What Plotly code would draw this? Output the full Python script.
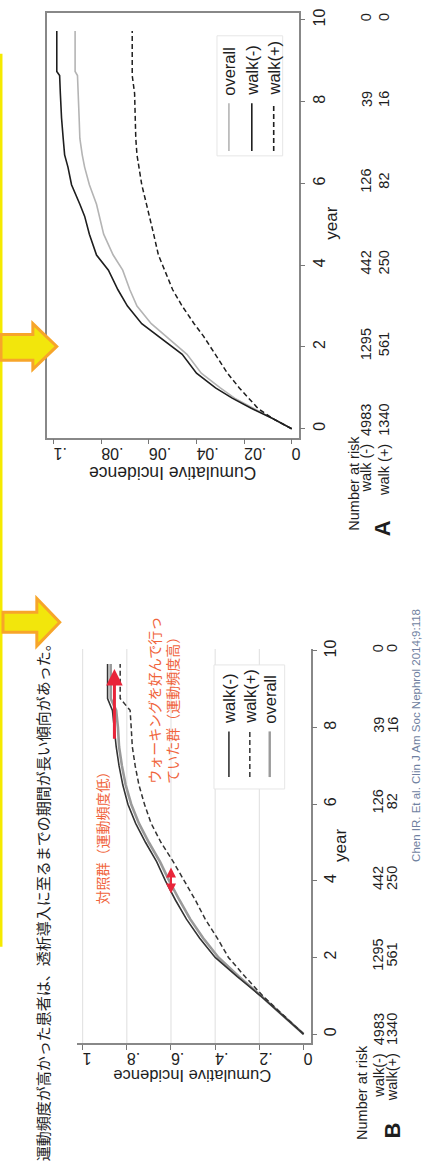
import plotly.graph_objects as go

W, H = 426, 1173
def px(x):
    return x / W
def py(y):
    return 1 - y / H

FONT = "Liberation Sans, Arial, sans-serif"
JFONT = "Noto Sans CJK JP, sans-serif"

# ---------------- data: panel A ----------------
years_A = [0, 0.25, 0.5, 0.75, 1.0, 1.36, 1.82, 2.26, 2.57, 3.0, 3.4, 3.88, 4.25,
           4.76, 5.2, 5.49, 5.97, 6.4, 6.7, 7.1, 7.6, 8.2, 8.64, 8.74, 9.73]
A_walk_minus = [0, .008, .017, .025, .032, .040, .046, .056, .063, .069, .073, .077, .082,
                .085, .087, .089, .0925, .094, .0954, .096, .0967, .0972, .0975, .0987, .0987]
A_overall = [0, .008, .016, .024, .030, .038, .044, .053, .059, .065, .068, .071, .075,
             .079, .081, .082, .085, .087, .088, .089, .0893, .0898, .090, .091, .091]
A_walk_plus = [0, .008, .0142, .018, .022, .027, .032, .037, .041, .046, .050, .0535, .056,
               .058, .060, .061, .063, .064, .065, .0655, .0658, .066, .067, .067, .067]

# ---------------- data: panel B ----------------
years_B = [0, 0.5, 1.0, 1.5, 2.0, 2.5, 3.0, 3.5, 4.0, 4.5, 5.0, 5.5, 6.0, 6.5, 7.0,
           7.5, 8.0, 8.45, 8.76, 9.66]
B_walk_minus = [0, .095, .195, .30, .40, .47, .53, .58, .625, .665, .715, .76, .795, .818,
                .835, .848, .856, .865, .887, .887]
B_walk_plus = [0, .095, .185, .265, .34, .39, .445, .49, .54, .59, .645, .69, .72, .745,
               .762, .775, .78, .785, .83, .83]
B_overall = [0, .095, .193, .292, .385, .454, .513, .562, .608, .65, .70, .745, .78, .805,
             .822, .835, .84, .848, .873, .873]

# ---------------- ticks / tables ----------------
year_ticks = [0, 2, 4, 6, 8, 10]
year_labels = ["0", "2", "4", "6", "8", "10"]
A_inc_ticks = [0, .02, .04, .06, .08, .1]
A_inc_labels = ["0", ".02", ".04", ".06", ".08", ".1"]
B_inc_ticks = [0, .2, .4, .6, .8, 1]
B_inc_labels = ["0", ".2", ".4", ".6", ".8", "1"]

risk_years = [0, 2, 4, 6, 8, 10]
risk_minus = [4983, 1295, 442, 126, 39, 0]
risk_plus = [1340, 561, 250, 82, 16, 0]

A_legend = ["overall", "walk(-)", "walk(+)"]
B_legend = ["walk(-)", "walk(+)", "overall"]

title_jp = "運動頻度が高かった患者は、透析導入に至るまでの期間が長い傾向があった。"
note_low = "対照群（運動頻度低）"
note_high = "ウォーキングを好んで行っ<br>ていた群（運動頻度高）"
citation = "Chen IR. Et al. Clin J Am Soc Nephrol 2014;9:118"

# arrows (data coordinates of panel B)
gap_arrow = dict(inc=0.6, y_from=3.63, y_to=4.35)
end_arrow = dict(inc=0.856, y_from=7.67, y_to=9.53)

DARK = "#1e1e1e"
LIGHT_A = "#b4b4b4"
GRAY_B = "#9a9a9a"
RED = "#e8253a"
ORANGE_TXT = "#f0643c"
DASH = "5px,3px"

fig = go.Figure()

# Panel A traces
fig.add_trace(go.Scatter(x=A_overall, y=years_A, xaxis="x", yaxis="y", mode="lines",
                         line=dict(color=LIGHT_A, width=1.6)))
fig.add_trace(go.Scatter(x=A_walk_plus, y=years_A, xaxis="x", yaxis="y", mode="lines",
                         line=dict(color=DARK, width=1.5, dash=DASH)))
fig.add_trace(go.Scatter(x=A_walk_minus, y=years_A, xaxis="x", yaxis="y", mode="lines",
                         line=dict(color=DARK, width=1.6)))

# Panel B traces
fig.add_trace(go.Scatter(x=B_overall, y=years_B, xaxis="x2", yaxis="y2", mode="lines",
                         line=dict(color=GRAY_B, width=2.6)))
fig.add_trace(go.Scatter(x=B_walk_plus, y=years_B, xaxis="x2", yaxis="y2", mode="lines",
                         line=dict(color="#333333", width=1.5, dash=DASH)))
fig.add_trace(go.Scatter(x=B_walk_minus, y=years_B, xaxis="x2", yaxis="y2", mode="lines",
                         line=dict(color="#333333", width=1.6)))

tickfont = dict(family=FONT, size=16, color=DARK)
common = dict(ticks="outside", ticklen=5, tickcolor="#777", showline=True, linecolor="#888",
              linewidth=1.5, zeroline=False, showgrid=False, tickfont=tickfont)

fig.update_layout(
    width=W, height=H, margin=dict(l=0, r=0, t=0, b=0),
    paper_bgcolor="white", plot_bgcolor="white", showlegend=False,
    xaxis=dict(domain=[px(47), px(300)], range=[0.1029, -0.0029], anchor="y",
               tickvals=A_inc_ticks, ticktext=A_inc_labels, tickangle=180, mirror=True, **common),
    yaxis=dict(domain=[py(432), py(4)], range=[-0.218, 10.17], anchor="x", side="right",
               tickvals=year_ticks, ticktext=year_labels, tickangle=-90, mirror=True, **common),
    xaxis2=dict(domain=[px(77), px(312)], range=[1.027, -0.0315], anchor="y2",
                tickvals=B_inc_ticks, ticktext=B_inc_labels, tickangle=180, **common),
    yaxis2=dict(domain=[py(1042), py(645)], range=[-0.233, 10.05], anchor="x2", side="right",
                tickvals=year_ticks, ticktext=year_labels, tickangle=-90, **common),
)

shapes = []
# panel B grid lines
for v in B_inc_ticks[1:]:
    shapes.append(dict(type="line", xref="x2", yref="y2 domain", x0=v, x1=v, y0=0, y1=1,
                       line=dict(color="#e4e4e4", width=1.2), layer="below"))
# legend boxes
shapes.append(dict(type="rect", xref="paper", yref="paper", x0=px(218), x1=px(284),
                   y0=py(148), y1=py(27), line=dict(color="#e6e6e6", width=1),
                   fillcolor="white", layer="below"))
shapes.append(dict(type="rect", xref="paper", yref="paper", x0=px(215), x1=px(286),
                   y0=py(786), y1=py(661), line=dict(color="#e6e6e6", width=1),
                   fillcolor="white", layer="below"))

annotations = []
def rtext(text, x, y, size, color=DARK, yanchor="middle", angle=-90, family=FONT,
          xref="paper", yref="paper", yshift=0, align="center", bold=False):
    if bold:
        text = "<b>" + text + "</b>"
    annotations.append(dict(text=text, x=x, y=y, xref=xref, yref=yref, showarrow=False,
                            textangle=angle, xanchor="center", yanchor=yanchor, yshift=yshift,
                            align=align, font=dict(family=family, size=size, color=color)))

# legend A
A_leg_style = [(LIGHT_A, "solid"), (DARK, "solid"), (DARK, DASH)]
for i, (name, (col, dash)) in enumerate(zip(A_legend, A_leg_style)):
    xc = [230, 253, 275][i]
    shapes.append(dict(type="line", xref="paper", yref="paper", x0=px(xc), x1=px(xc),
                       y0=py(143), y1=py(95), line=dict(color=col, width=1.6, dash=dash)))
    rtext(name, px(xc), py(89), 16.5, yanchor="bottom")

# legend B
B_leg_style = [("#333333", "solid", 1.6), ("#333333", DASH, 1.5), (GRAY_B, "solid", 2.4)]
for i, (name, (col, dash, wd)) in enumerate(zip(B_legend, B_leg_style)):
    xc = [230, 251, 271][i]
    shapes.append(dict(type="line", xref="paper", yref="paper", x0=px(xc), x1=px(xc),
                       y0=py(774), y1=py(728), line=dict(color=col, width=wd, dash=dash)))
    rtext(name, px(xc), py(722), 16.5, yanchor="bottom")

# axis titles
rtext("year", px(333), py(216), 17)
rtext("Cumulative Incidence", px(174), py(467), 17.5, angle=180)
rtext("year", px(342), py(843), 17)
rtext("Cumulative Incidence", px(193), py(1075), 16.5, angle=180)

# risk tables
for (xm, xp, yref_ax, shift0, lab_m, lab_p, xn, yn, letter, lx, ly) in [
        (368, 386, "y", 27, "walk (-)", "walk (+)", 356, 478, "A", 385, 523),
        (380, 394, "y2", 23, "walk(-)", "walk(+)", 363, 1092, "B", 394, 1130)]:
    rtext("Number at risk", px(xn), py(yn), 14.5)
    rtext(letter, px(lx), py(ly), 22, bold=True)
    rtext(f"{lab_m}  {risk_minus[0]}", px(xm), risk_years[0], 14.5, yref=yref_ax,
          yanchor="top", yshift=shift0)
    rtext(f"{lab_p}  {risk_plus[0]}", px(xp), risk_years[0], 14.5, yref=yref_ax,
          yanchor="top", yshift=shift0)
    for yr, nm, npl in zip(risk_years[1:], risk_minus[1:], risk_plus[1:]):
        rtext(str(nm), px(xm), yr, 14.5, yref=yref_ax, yshift=3)
        rtext(str(npl), px(xp), yr, 14.5, yref=yref_ax, yshift=3)

# Japanese texts
rtext(title_jp, px(43), py(1163), 15, family=JFONT, yanchor="bottom")
rtext(note_low, px(103), py(905), 14, color=ORANGE_TXT, family=JFONT, yanchor="bottom")
rtext(note_high, px(164), py(783), 14, color=ORANGE_TXT, family=JFONT, yanchor="bottom",
      align="left")
rtext(citation, px(418), py(862), 11.5, color="#6f7fa0", yanchor="bottom")

# red arrows
annotations.append(dict(x=gap_arrow["inc"], y=gap_arrow["y_to"], ax=gap_arrow["inc"],
                        ay=gap_arrow["y_from"], xref="x2", yref="y2", axref="x2", ayref="y2",
                        text="", showarrow=True, arrowhead=2, startarrowhead=2,
                        arrowside="end+start", arrowcolor=RED, arrowwidth=2, arrowsize=1,
                        startarrowsize=1))
annotations.append(dict(x=end_arrow["inc"], y=end_arrow["y_to"], ax=end_arrow["inc"],
                        ay=end_arrow["y_from"], xref="x2", yref="y2", axref="x2", ayref="y2",
                        text="", showarrow=True, arrowhead=2, arrowcolor=RED, arrowwidth=3,
                        arrowsize=1.1))

# yellow frame edge and arrows
shapes.append(dict(type="rect", xref="paper", yref="paper", x0=0, x1=px(2.5), y0=py(945),
                   y1=py(45), line=dict(width=0), fillcolor="#f5ea00"))
def arrow_path(x0, s0, s1, hx, h0, h1, tipx, tipy):
    return (f"M {px(x0)},{py(s0)} L {px(hx)},{py(s0)} L {px(hx)},{py(h0)} "
            f"L {px(tipx)},{py(tipy)} L {px(hx)},{py(h1)} L {px(hx)},{py(s1)} "
            f"L {px(x0)},{py(s1)} Z")
for args in [(1, 328, 354, 33, 317, 363, 57, 340), (3, 608, 628, 37, 594, 642, 60, 618)]:
    shapes.append(dict(type="path", xref="paper", yref="paper", path=arrow_path(*args),
                       fillcolor="#f2e60c", line=dict(color="#f7a52a", width=3)))

fig.update_layout(shapes=shapes, annotations=annotations)
fig.write_html("out.html", config={"displayModeBar": False},
               post_script="document.body.style.margin='0px';"
                           "document.body.style.overflow='hidden';")
